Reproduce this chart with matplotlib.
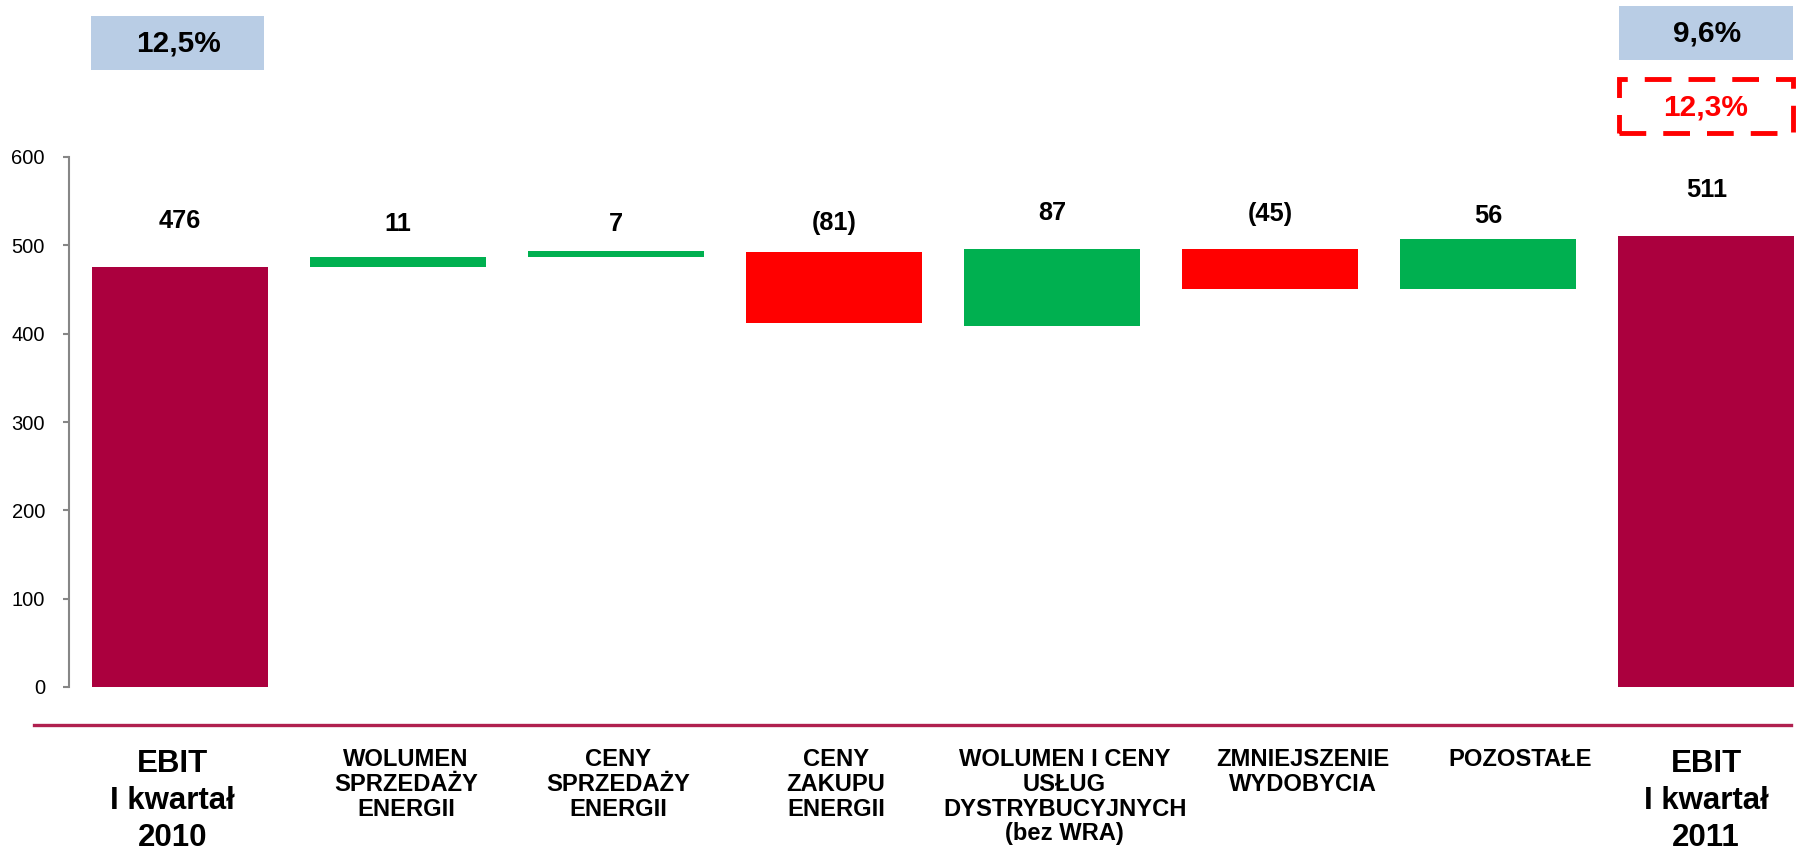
import matplotlib
matplotlib.use("Agg")
import matplotlib.pyplot as plt
from matplotlib.lines import Line2D
from matplotlib.patches import Rectangle
import matplotlib.transforms as mtransforms
import numpy as np

plt.rcParams['font.family'] = ['Liberation Sans', 'DejaVu Sans']

categories = ["EBIT\nI kwartał\n2010", "WOLUMEN\nSPRZEDAŻY\nENERGII", "CENY\nSPRZEDAŻY\nENERGII",
              "CENY\nZAKUPU\nENERGII", "WOLUMEN I CENY\nUSŁUG\nDYSTRYBUCYJNYCH\n(bez WRA)",
              "ZMNIEJSZENIE\nWYDOBYCIA", "POZOSTAŁE", "EBIT\nI kwartał\n2011"]
values = [476, 11, 7, -81, 87, -45, 56, 511]
# lower edge of every bar as drawn in the reference
bar_base = [0, 476, 487, 412, 409, 451, 451, 0]
is_total = [True, False, False, False, False, False, False, True]
value_labels = ["476", "11", "7", "(81)", "87", "(45)", "56", "511"]
margin_2010 = "12,5%"
margin_2011 = "9,6%"
margin_2011_adj = "12,3%"
yticks = [0, 100, 200, 300, 400, 500, 600]

MAROON = "#AB003E"
GREEN = "#00B050"
RED = "#FF0000"
BLUE = "#B9CDE5"

fig = plt.figure(figsize=(18, 8.56), dpi=100)
ax = fig.add_axes([69/1800, 1-687/856, 1-69/1800, (687-157)/856])

x = np.arange(len(values))
heights = [abs(v) for v in values]
colors = [MAROON if t else (GREEN if v >= 0 else RED) for v, t in zip(values, is_total)]

ax.bar(x, heights, bottom=bar_base, width=0.805, color=colors, linewidth=0)

# label offsets above bar tops (layout only)
label_offsets = [51.5, 37, 30, 32.5, 40.5, 40, 26, 52]
tops = [b + h for b, h in zip(bar_base, heights)]
for xi, t, lab, off in zip(x, tops, value_labels, label_offsets):
    ax.text(xi, t + off, lab, ha='center', va='center', fontsize=18.3, fontweight='bold', color='black')

ax.set_xlim(-0.509, 7.43)
ax.set_ylim(0, 600)
ax.set_yticks(yticks)
ax.set_xticks([])
for s in ['top', 'right', 'bottom']:
    ax.spines[s].set_visible(False)
ax.spines['left'].set_color('#868686')
ax.spines['left'].set_linewidth(1.5)
ax.tick_params(axis='y', colors='#868686', length=4.3, width=1.5, direction='out', labelsize=14.5,
               labelcolor='black', pad=13)

# separator line
fig.add_artist(Line2D([34/1800, 1791/1800], [1-724.5/856, 1-724.5/856], color='#B0204F', lw=2.4))

# category labels (horizontal shift in pixels, layout only)
label_shift_px = [-7.5, 8, 2, 2, 12.5, 33, 32, 0]
px_per_unit = (1800 - 69) / (7.43 + 0.509)
trans = mtransforms.blended_transform_factory(ax.transData, fig.transFigure)
for xi, cat, tot, sh in zip(x, categories, is_total, label_shift_px):
    xx = xi + sh / px_per_unit
    if tot:
        ax.text(xx, 1-749/856, cat, transform=trans, ha='center', va='top', fontsize=22.5,
                fontweight='bold', linespacing=1.3, clip_on=False)
    else:
        ax.text(xx, 1-748/856, cat, transform=trans, ha='center', va='top', fontsize=17.1,
                fontweight='bold', linespacing=1.1, clip_on=False)

# margin boxes (positions in figure pixels)
def fig_box(x0, y0, x1, y1, **kw):
    r = Rectangle((x0/1800, 1-y1/856), (x1-x0)/1800, (y1-y0)/856, transform=fig.transFigure, **kw)
    fig.add_artist(r)

fig_box(91, 16, 264, 70, facecolor=BLUE, edgecolor='none')
fig.text(178/1800, 1-43/856, margin_2010, ha='center', va='center', fontsize=21.5, fontweight='bold')
fig_box(1619, 6, 1793, 60, facecolor=BLUE, edgecolor='none')
fig.text(1707/1800, 1-34/856, margin_2011, ha='center', va='center', fontsize=21.5, fontweight='bold')
fig_box(1619, 79, 1793, 133, facecolor='none', edgecolor=RED, linewidth=3.5, linestyle=(0, (5.5, 3.5)))
fig.text(1706/1800, 1-107/856, margin_2011_adj, ha='center', va='center', fontsize=21.5,
         fontweight='bold', color=RED)

fig.savefig("out.png", dpi=100)
